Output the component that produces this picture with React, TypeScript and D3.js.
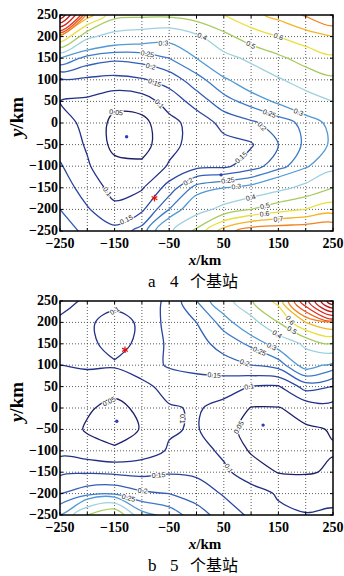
import React from "react";
import * as d3 from "d3";

// grid nodes, km (columns left to right, rows top to bottom)
const colKm = [-250, -200, -150, -100, -50, 0, 50, 100, 150, 200, 250];
const rowKm = [250, 200, 150, 100, 50, 0, -50, -100, -150, -200, -250];
const xTickLabels = [-250, -150, -50, 50, 150, 250];
const yTickLabels = [250, 200, 150, 100, 50, 0, -50, -100, -150, -200, -250];
const gridLines = [-200, -150, -100, -50, 0, 50, 100, 150, 200];

const levels = [0.05, 0.1, 0.15, 0.2, 0.25, 0.3, 0.4, 0.5, 0.6, 0.7, 0.8, 0.9, 1, 1.2, 1.4, 1.6, 1.8];
const levelColors = [
  "#1c1f6b", "#232f88", "#2b46a0", "#335fb6", "#3d7bc8", "#5099d6",
  "#9dd1dd", "#a6cb5e", "#e9df3c", "#f4b424", "#f1801f", "#ea551d",
  "#e0321b", "#d4221a", "#c81818", "#b81515", "#a81212",
];

// (4 stations), rows y = 250 .. -250
const gdop4 = [
  [1.8, 0.75, 0.53, 0.52, 0.52, 0.55, 0.6, 0.67, 0.73, 0.81, 0.9],
  [0.7, 0.42, 0.36, 0.34, 0.32, 0.38, 0.47, 0.55, 0.6, 0.65, 0.7],
  [0.3, 0.23, 0.21, 0.22, 0.25, 0.3, 0.37, 0.42, 0.48, 0.54, 0.58],
  [0.14, 0.14, 0.135, 0.145, 0.17, 0.23, 0.29, 0.34, 0.39, 0.44, 0.48],
  [0.1, 0.09, 0.065, 0.075, 0.12, 0.17, 0.23, 0.27, 0.31, 0.36, 0.4],
  [0.115, 0.09, 0.035, 0.035, 0.085, 0.12, 0.165, 0.19, 0.225, 0.265, 0.32],
  [0.13, 0.095, 0.035, 0.03, 0.085, 0.12, 0.135, 0.145, 0.2, 0.26, 0.31],
  [0.155, 0.105, 0.065, 0.06, 0.105, 0.135, 0.14, 0.175, 0.23, 0.29, 0.37],
  [0.18, 0.125, 0.085, 0.095, 0.17, 0.27, 0.3, 0.32, 0.37, 0.43, 0.5],
  [0.2, 0.155, 0.11, 0.14, 0.25, 0.36, 0.43, 0.5, 0.56, 0.6, 0.65],
  [0.22, 0.19, 0.165, 0.22, 0.38, 0.52, 0.75, 0.86, 0.88, 0.89, 0.9],
];

// (5 stations)
const gdop5 = [
  [0.09, 0.105, 0.11, 0.125, 0.16, 0.25, 0.35, 0.49, 0.63, 1.1, 2.0],
  [0.105, 0.105, 0.088, 0.105, 0.17, 0.2, 0.27, 0.36, 0.5, 0.7, 0.8],
  [0.11, 0.11, 0.085, 0.11, 0.16, 0.18, 0.22, 0.26, 0.33, 0.42, 0.49],
  [0.1, 0.105, 0.105, 0.13, 0.155, 0.16, 0.18, 0.2, 0.22, 0.33, 0.28],
  [0.09, 0.08, 0.065, 0.085, 0.12, 0.135, 0.12, 0.098, 0.095, 0.17, 0.15],
  [0.085, 0.055, 0.038, 0.06, 0.095, 0.105, 0.085, 0.048, 0.048, 0.065, 0.08],
  [0.075, 0.045, 0.035, 0.052, 0.095, 0.105, 0.06, 0.04, 0.035, 0.045, 0.052],
  [0.085, 0.07, 0.055, 0.075, 0.105, 0.12, 0.09, 0.045, 0.035, 0.04, 0.048],
  [0.14, 0.145, 0.14, 0.135, 0.145, 0.14, 0.11, 0.075, 0.048, 0.046, 0.055],
  [0.2, 0.23, 0.24, 0.21, 0.2, 0.18, 0.145, 0.12, 0.095, 0.085, 0.09],
  [0.3, 0.5, 0.6, 0.32, 0.28, 0.22, 0.18, 0.14, 0.11, 0.102, 0.105],
];

const stations4 = [[-128, -32], [45, -120]];
const stars4 = [[-77, -174]];
const stations5 = [[-146, -31], [122, -40]];
const stars5 = [[-131, 136]];

const serif = "'Liberation Serif', 'Times New Roman', serif";
const cjk = "'Noto Sans CJK SC', sans-serif";

type Pt = [number, number];

// MATLAB-like inline label positions along the visible parts of a contour ring
function labelSpots(pts: Pt[], x0: number, x1: number, y0: number, y1: number) {
  const inside = pts.map((p) => p[0] > x0 + 4 && p[0] < x1 - 4 && p[1] > y0 + 4 && p[1] < y1 - 4);
  const runs: Pt[][] = [];
  const start = inside.indexOf(false);
  if (start < 0) runs.push(pts);
  else {
    let cur: Pt[] = [];
    for (let k = 1; k <= pts.length; k++) {
      const i = (start + k) % pts.length;
      if (inside[i]) cur.push(pts[i]);
      else {
        if (cur.length > 1) runs.push(cur);
        cur = [];
      }
    }
    if (cur.length > 1) runs.push(cur);
  }
  const spots: { x: number; y: number; ang: number }[] = [];
  runs.forEach((run) => {
    const cum = [0];
    for (let i = 1; i < run.length; i++)
      cum.push(cum[i - 1] + Math.hypot(run[i][0] - run[i - 1][0], run[i][1] - run[i - 1][1]));
    const len = cum[cum.length - 1];
    if (len < 30) return;
    const count = Math.max(1, Math.floor(len / 120));
    for (let j = 0; j < count; j++) {
      const t = (len * (j + 0.5)) / count;
      let i = 1;
      while (i < run.length - 1 && cum[i] < t) i++;
      const a = run[i - 1], b = run[i];
      const f = (t - cum[i - 1]) / (cum[i] - cum[i - 1] || 1);
      let ang = (Math.atan2(b[1] - a[1], b[0] - a[0]) * 180) / Math.PI;
      if (ang > 90) ang -= 180;
      if (ang < -90) ang += 180;
      spots.push({ x: a[0] + f * (b[0] - a[0]), y: a[1] + f * (b[1] - a[1]), ang });
    }
  });
  return spots;
}

function Panel({ values, dots, stars, top, height, letter, count, id }: any) {
  const left = 60, right = 333;
  const bottom = top + height;
  const x = d3.scaleLinear().domain([-250, 250]).range([left, right]);
  const y = d3.scaleLinear().domain([-250, 250]).range([bottom, top]);
  const step = colKm[1] - colKm[0];
  const px = (c: number) => x(colKm[0] + (c - 0.5) * step);
  const py = (c: number) => y(rowKm[0] - (c - 0.5) * step);

  const contours = d3.contours().size([colKm.length, rowKm.length]).thresholds(levels)(values.flat());
  const line = d3.line().curve(d3.curveCatmullRomClosed.alpha(0.5));
  const symAst = (d3 as any).symbolAsterisk ?? d3.symbolCross;
  const star = d3.symbol(symAst, 30)();

  const rings: { d: string; color: string }[] = [];
  const labels: { x: number; y: number; ang: number; text: string }[] = [];
  contours.forEach((c) => {
    const li = levels.indexOf(c.value);
    c.coordinates.forEach((poly) =>
      poly.forEach((ring) => {
        const pts = ring.map((p) => [px(p[0]), py(p[1])] as Pt);
        rings.push({ d: line(pts) || "", color: levelColors[li] });
        labelSpots(pts, left, right, top, bottom).forEach((s) =>
          labels.push({ ...s, text: String(c.value) })
        );
      })
    );
  });

  return (
    <g>
      <defs>
        <clipPath id={id}>
          <rect x={left} y={top} width={right - left} height={height} />
        </clipPath>
      </defs>
      <rect x={left} y={top} width={right - left} height={height} fill="#fff" />
      <g stroke="#333" strokeWidth={0.8} strokeDasharray="1,2">
        {gridLines.map((v) => (
          <line key={"gx" + v} x1={x(v)} x2={x(v)} y1={top} y2={bottom} />
        ))}
        {gridLines.map((v) => (
          <line key={"gy" + v} x1={left} x2={right} y1={y(v)} y2={y(v)} />
        ))}
      </g>
      <g clipPath={`url(#${id})`}>
        {rings.map((r, i) => (
          <path key={i} d={r.d} fill="none" stroke={r.color} strokeWidth={1.3} />
        ))}
        {labels.map((l, i) => (
          <text
            key={"l" + i}
            transform={`translate(${l.x},${l.y}) rotate(${l.ang})`}
            textAnchor="middle"
            dy="0.35em"
            fontSize={7}
            fontFamily="'Liberation Sans', sans-serif"
            fill="#222"
            stroke="#fff"
            strokeWidth={2}
            paintOrder="stroke"
          >
            {l.text}
          </text>
        ))}
        {dots.map((p: number[], i: number) => (
          <circle key={"d" + i} cx={x(p[0])} cy={y(p[1])} r={1.7} fill="#2a3fbf" />
        ))}
        {stars.map((p: number[], i: number) => (
          <path key={"s" + i} d={star || ""} transform={`translate(${x(p[0])},${y(p[1])})`} stroke="#e01010" strokeWidth={1.2} fill="#e01010" />
        ))}
      </g>
      <g stroke="#000" strokeWidth={1}>
        {colKm.map((v) => (
          <g key={"tx" + v}>
            <line x1={x(v)} x2={x(v)} y1={bottom} y2={bottom - 3} />
            <line x1={x(v)} x2={x(v)} y1={top} y2={top + 3} />
          </g>
        ))}
        {rowKm.map((v) => (
          <g key={"ty" + v}>
            <line x1={left} x2={left + 3} y1={y(v)} y2={y(v)} />
            <line x1={right} x2={right - 3} y1={y(v)} y2={y(v)} />
          </g>
        ))}
      </g>
      <rect x={left} y={top} width={right - left} height={height} fill="none" stroke="#000" strokeWidth={1.5} />
      <g fontFamily={serif} fontWeight="bold" fontSize={14} fill="#000">
        {yTickLabels.map((v) => (
          <text key={"yl" + v} x={left - 2} y={y(v) + 4} textAnchor="end">
            {d3.format("d")(v)}
          </text>
        ))}
        {xTickLabels.map((v) => (
          <text key={"xl" + v} x={x(v)} y={bottom + 17} textAnchor="middle">
            {d3.format("d")(v)}
          </text>
        ))}
      </g>
      <text x={205} y={bottom + 34} textAnchor="middle" fontFamily={serif} fontWeight="bold" fontSize={15}>
        <tspan fontStyle="italic">x</tspan>/km
      </text>
      <text
        transform={`translate(23,${(top + bottom) / 2 - 6}) rotate(-90)`}
        textAnchor="middle"
        fontFamily={serif}
        fontWeight="bold"
        fontSize={19}
      >
        <tspan fontStyle="italic">y</tspan>/km
      </text>
      <text x={148} y={bottom + 56} fontFamily={serif} fontSize={17}>{letter}</text>
      <text x={170} y={bottom + 56} fontFamily={serif} fontSize={17}>{count}</text>
      <text x={190} y={bottom + 56} fontFamily={cjk} fontSize={16}>个基站</text>
    </g>
  );
}

export default function App() {
  return (
    <svg width={344} height={576} style={{ position: "absolute", left: 0, top: 0, background: "#fff" }}>
      <Panel id="clipA" values={gdop4} dots={stations4} stars={stars4} top={15} height={216} letter="a" count="4" />
      <Panel id="clipB" values={gdop5} dots={stations5} stars={stars5} top={301} height={214} letter="b" count="5" />
    </svg>
  );
}
